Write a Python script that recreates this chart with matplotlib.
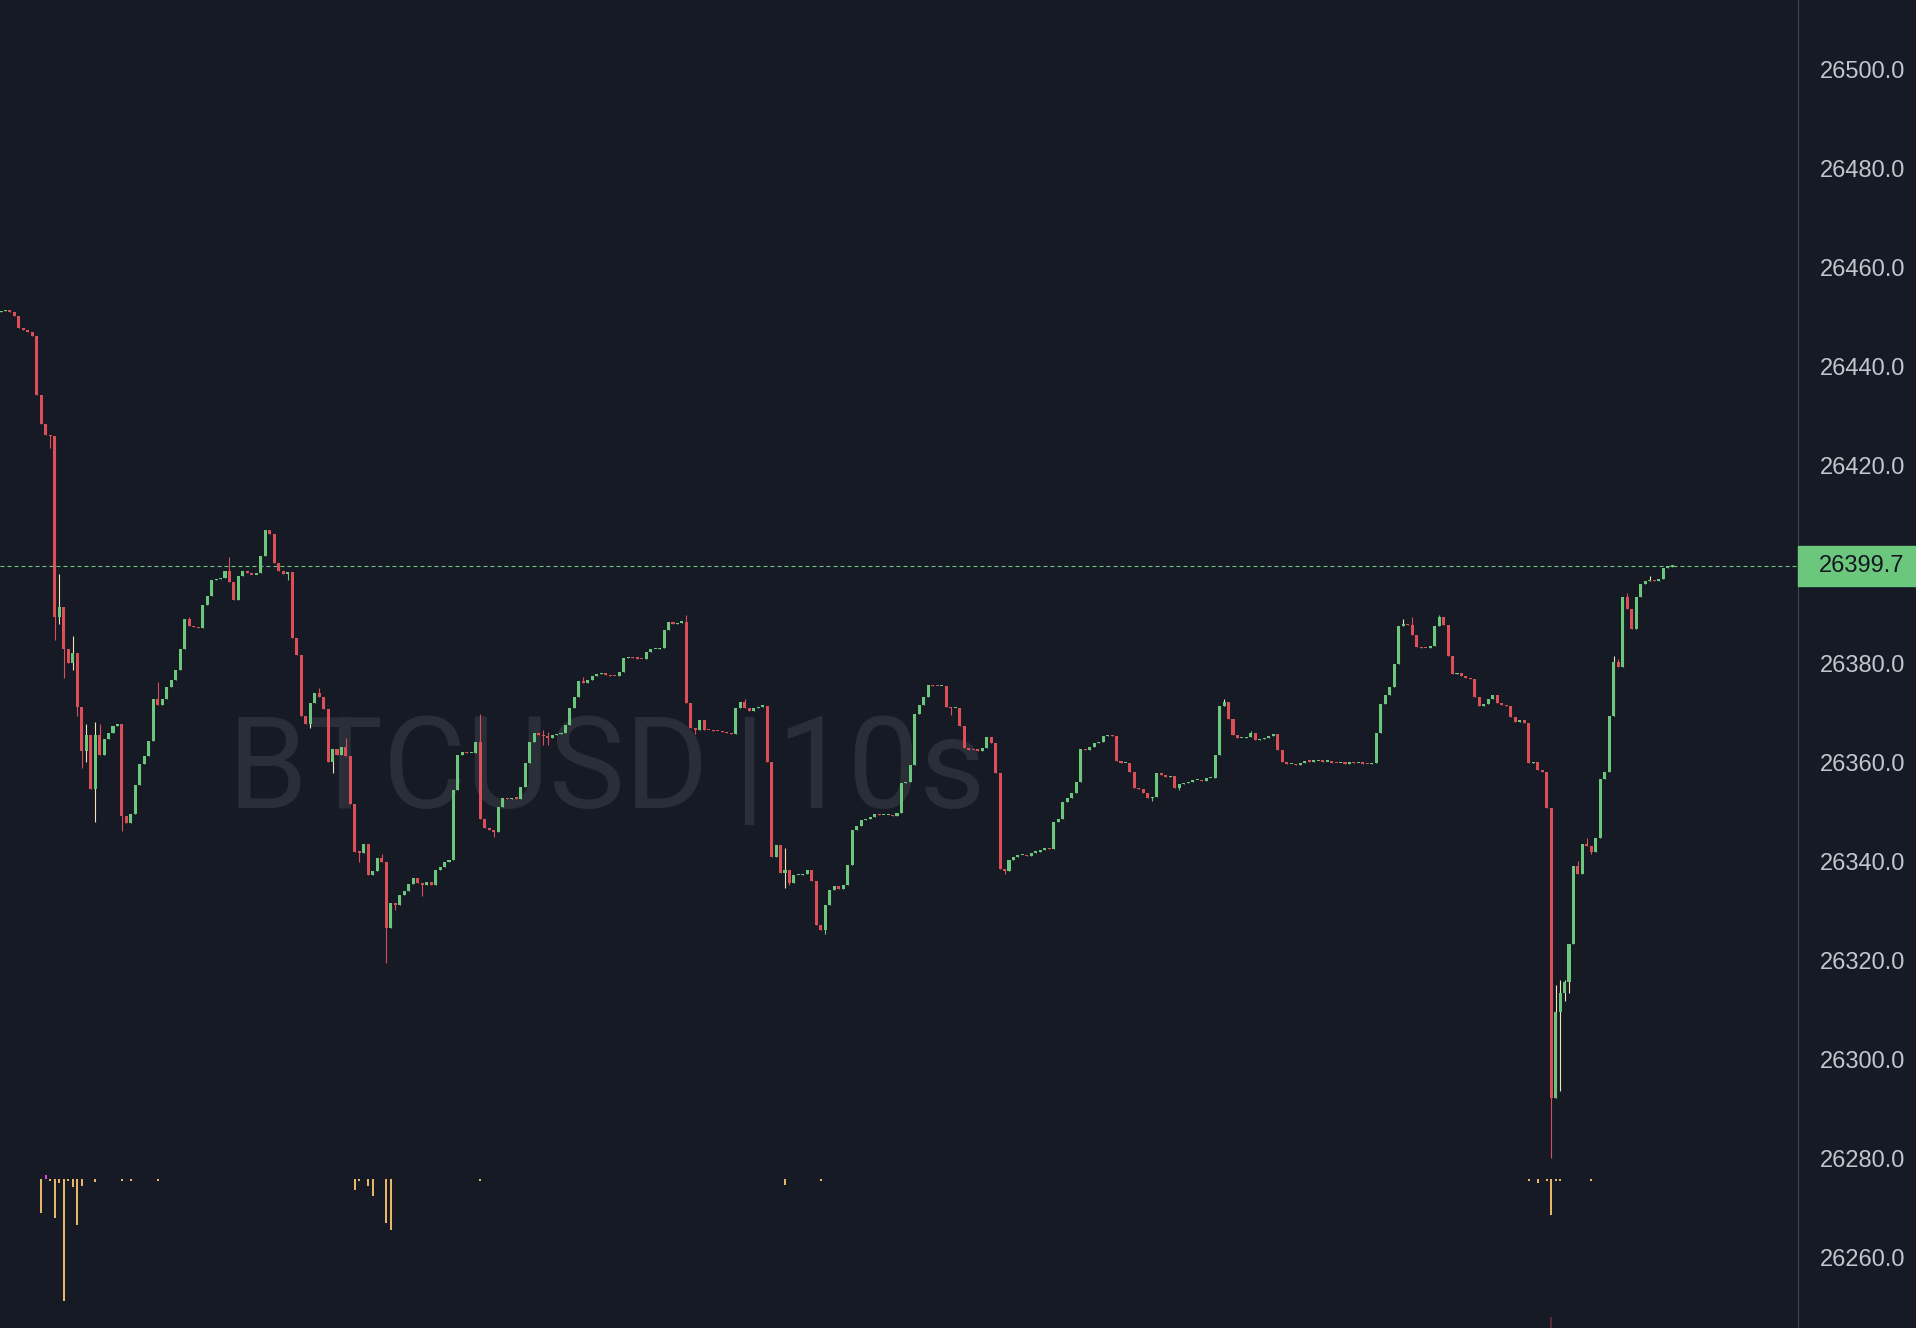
# BTCUSD 10s candles, dark theme, price scale on the right
import numpy as np
import matplotlib.pyplot as plt
from matplotlib.patches import Rectangle

# ---- data ----
first_open = 26451.0

closes = [
    26451.2, 26451.5, 26451.0, 26450.2, 26447.8, 26447.4, 26446.9, 26446.1, 26434.3, 26428.5,
    26426.2, 26426.0, 26389.5, 26391.4, 26382.9, 26380.2, 26382.1, 26371.3, 26362.4, 26365.5,
    26354.7, 26365.5, 26361.6, 26364.7, 26365.9, 26367.4, 26367.8, 26349.3, 26347.7, 26349.7,
    26355.5, 26359.7, 26361.3, 26364.4, 26372.9, 26371.7, 26372.9, 26375.2, 26376.7, 26378.7,
    26382.9, 26389.1, 26387.5, 26387.4, 26387.2, 26391.8, 26393.7, 26396.8, 26397.0, 26397.2,
    26398.7, 26396.4, 26392.9, 26397.6, 26398.7, 26398.4, 26398.0, 26398.4, 26401.8, 26406.9,
    26406.1, 26400.3, 26398.7, 26398.1, 26398.6, 26385.2, 26381.7, 26369.4, 26367.8, 26372.1,
    26374.0, 26373.2, 26370.9, 26360.1, 26362.8, 26361.6, 26363.2, 26361.3, 26351.6, 26342.0,
    26341.8, 26343.5, 26337.3, 26338.1, 26340.8, 26340.0, 26326.5, 26331.6, 26331.2, 26333.3,
    26334.0, 26335.5, 26336.6, 26335.6, 26335.2, 26335.9, 26335.3, 26338.3, 26339.0, 26340.0,
    26340.3, 26354.5, 26361.5, 26362.2, 26361.9, 26361.9, 26364.1, 26348.7, 26346.7, 26346.4,
    26346.0, 26351.1, 26352.8, 26352.6, 26352.9, 26352.7, 26355.1, 26359.9, 26364.1, 26365.9,
    26365.6, 26365.4, 26365.0, 26365.6, 26365.8, 26365.9, 26367.6, 26371.0, 26373.3, 26376.4,
    26376.0, 26376.7, 26377.5, 26377.9, 26378.0, 26377.7, 26377.5, 26377.4, 26378.4, 26381.1,
    26381.4, 26381.1, 26381.0, 26380.9, 26382.4, 26382.9, 26383.0, 26383.1, 26386.8, 26388.5,
    26388.0, 26388.3, 26388.5, 26372.0, 26366.9, 26366.5, 26368.6, 26366.6, 26366.5, 26366.4,
    26366.3, 26366.2, 26365.9, 26365.8, 26371.0, 26372.3, 26371.0, 26370.5, 26371.0, 26371.3,
    26371.4, 26360.2, 26341.0, 26343.4, 26337.6, 26338.3, 26335.6, 26337.3, 26337.3, 26337.5,
    26338.4, 26336.0, 26327.2, 26326.2, 26331.2, 26334.3, 26335.1, 26334.5, 26335.3, 26339.3,
    26346.4, 26347.1, 26348.4, 26348.7, 26349.1, 26349.6, 26349.4, 26349.4, 26349.4, 26349.2,
    26349.9, 26355.8, 26356.1, 26359.5, 26369.9, 26371.6, 26373.3, 26375.7, 26375.5, 26375.4,
    26375.4, 26371.3, 26371.0, 26371.0, 26367.4, 26362.9, 26362.6, 26362.5, 26362.4, 26362.9,
    26365.2, 26363.9, 26357.8, 26338.6, 26338.0, 26340.3, 26341.0, 26341.3, 26341.4, 26341.1,
    26341.8, 26342.0, 26342.3, 26342.7, 26342.5, 26348.1, 26348.7, 26352.1, 26352.8, 26353.9,
    26356.1, 26362.7, 26362.5, 26363.2, 26364.0, 26364.2, 26365.4, 26365.6, 26365.4, 26360.4,
    26359.9, 26360.0, 26358.2, 26354.8, 26354.6, 26353.8, 26352.8, 26353.1, 26357.8, 26357.5,
    26357.1, 26357.2, 26354.8, 26355.7, 26355.8, 26356.0, 26356.4, 26356.5, 26356.3, 26356.8,
    26356.9, 26361.5, 26371.4, 26372.3, 26368.9, 26365.6, 26364.9, 26365.0, 26365.2, 26365.9,
    26364.6, 26364.8, 26364.9, 26365.4, 26365.7, 26362.6, 26360.2, 26359.7, 26359.7, 26359.5,
    26360.0, 26360.4, 26360.2, 26360.3, 26360.4, 26360.2, 26360.2, 26360.0, 26359.9, 26359.9,
    26359.8, 26360.2, 26359.9, 26359.9, 26359.8, 26359.7, 26359.9, 26366.0, 26371.8, 26373.7,
    26375.2, 26379.9, 26387.5, 26388.0, 26387.8, 26385.8, 26383.4, 26383.2, 26383.1, 26383.6,
    26387.6, 26389.5, 26387.8, 26381.5, 26377.9, 26378.0, 26377.4, 26377.1, 26376.8, 26373.3,
    26371.4, 26371.8, 26372.8, 26373.7, 26372.1, 26371.6, 26371.4, 26369.3, 26368.3, 26368.7,
    26367.9, 26359.9, 26360.2, 26358.5, 26358.0, 26350.8, 26292.2, 26309.7, 26313.5, 26315.7,
    26323.3, 26339.2, 26337.4, 26343.5, 26343.1, 26341.9, 26344.8, 26356.7, 26358.0, 26369.4,
    26380.4, 26379.4, 26393.4, 26391.0, 26387.0, 26393.4, 26396.1, 26396.7, 26396.9, 26396.6,
    26397.1, 26399.4, 26399.6, 26399.7,
]

# wick extremes that reach past the body (candle index -> price)
wick_hi = {13: 26398.0, 16: 26385.6, 19: 26367.8, 21: 26368.2, 22: 26367.8, 35: 26376.3,
           42: 26389.5, 51: 26401.5, 71: 26375.0, 77: 26365.0, 85: 26341.5, 107: 26369.8,
           121: 26366.6, 122: 26366.2, 130: 26377.2, 153: 26389.8, 166: 26372.8, 175: 26342.7,
           273: 26372.8, 279: 26366.3, 313: 26389.1, 315: 26389.5, 321: 26389.8, 347: 26315.1,
           348: 26316.1, 349: 26316.1, 352: 26340.2, 354: 26344.8, 360: 26381.6, 361: 26381.0,
           363: 26394.2, 368: 26397.7}
wick_lo = {11: 26423.5, 12: 26384.8, 13: 26388.0, 14: 26377.1, 16: 26378.7, 17: 26369.4,
           18: 26359.0, 19: 26360.1, 21: 26348.1, 27: 26346.2, 64: 26396.8, 69: 26367.0,
           74: 26357.8, 80: 26340.0, 86: 26319.5, 88: 26330.2, 94: 26333.0, 110: 26345.0,
           121: 26363.6, 122: 26363.5, 155: 26365.8, 175: 26334.6, 176: 26335.2, 184: 26325.3,
           212: 26369.6, 224: 26337.5, 257: 26352.3, 263: 26354.5, 346: 26280.1, 348: 26293.6,
           349: 26311.8, 350: 26313.4, 355: 26341.5}
cream_wicks = [13, 16, 19, 21, 69, 74, 175, 273, 313, 342, 347, 348, 349, 350, 360, 368]

# volume (hangs down from the bottom pane baseline)
vol_idx = [9, 11, 12, 13, 14, 15, 16, 17, 18, 21, 27, 29, 35, 79, 80, 82, 83, 86, 87,
           107, 175, 183, 341, 343, 345, 346, 347, 348, 355]
vol_val = [3.4, 0.15, 3.9, 0.4, 12.2, 0.2, 0.8, 4.6, 0.7, 0.3, 0.15, 0.15, 0.15, 1.1, 0.2,
           0.7, 1.7, 4.4, 5.1, 0.15, 0.6, 0.15, 0.15, 0.4, 0.15, 3.6, 0.15, 0.15, 0.15]
buy_idx = [10]
buy_val = [-0.45]

last_price = 26399.7
price_ticks = list(range(26260, 26501, 20))

# ---- colours ----
BG = '#161a25'
GREEN = '#6bc77b'
RED = '#dc4f56'
CREAM = '#eee2b6'
ORANGE = '#e9b566'
TXT = '#c3c6ce'
WM = '#2a2e39'
AXIS_FONT = ['Liberation Sans', 'DejaVu Sans']

W, H = 1916, 1328
PANE_W = 1798

fig = plt.figure(figsize=(W / 100, H / 100), dpi=100, facecolor=BG)
ax = fig.add_axes([0, 0, PANE_W / W, 1])
ax.set_facecolor(BG)

n = len(closes)
x = np.arange(n)
c = np.array(closes)
o = np.array([first_open] + closes[:-1])
top = np.maximum(o, c)
bot = np.minimum(o, c)
hi = np.array([wick_hi.get(i, top[i]) for i in range(n)])
lo = np.array([wick_lo.get(i, bot[i]) for i in range(n)])
up = c >= o
body_col = np.where(up, GREEN, RED)
wick_col = [CREAM if i in cream_wicks else body_col[i] for i in range(n)]

# watermark, pieces placed separately to get the tight spacing
wm_y = 1 - 808 / H
ax.text(227 / W, wm_y, 'BTCUSD', transform=fig.transFigure, fontsize=92,
        family='Roboto', color=WM, ha='left', va='baseline', zorder=0)
ax.text(750 / W, wm_y, '|', transform=fig.transFigure, fontsize=92,
        family='Roboto', color=WM, ha='center', va='baseline', zorder=0)
ax.text(986 / W, wm_y, '10s', transform=fig.transFigure, fontsize=92,
        family='Roboto', color=WM, ha='right', va='baseline', zorder=0)

ax.vlines(x, lo, hi, colors=wick_col, lw=0.8, zorder=2)
ax.bar(x, np.maximum(top - bot, 0.25), bottom=bot, width=0.68, color=body_col,
       lw=0, zorder=3)

ax.axhline(last_price, color=GREEN, lw=0.8, ls=(0, (3.6, 2.7)), zorder=1)

ax.set_xlim(-1 / 4.48, (PANE_W - 1) / 4.48)
ax.set_ylim(26500 - (H - 69.6) / 4.95, 26500 + 69.6 / 4.95)

ax.set_xticks([])
ax.yaxis.tick_right()
ax.set_yticks(price_ticks)
ax.set_yticklabels([f'{v:.1f}' for v in price_ticks])
ax.tick_params(axis='y', length=0, pad=15.5, labelsize=17, labelcolor=TXT)
for lab in ax.get_yticklabels():
    lab.set_family(AXIS_FONT)
for s in ['top', 'left', 'bottom']:
    ax.spines[s].set_visible(False)
ax.spines['right'].set_color('#434651')
ax.spines['right'].set_linewidth(0.8)

# last price tag on the scale
fig.patches.append(Rectangle((PANE_W / W, 1 - 586 / H), (W - PANE_W) / W, 40 / H,
                             transform=fig.transFigure, color=GREEN, zorder=5))
fig.text(1862 / W, 1 - 566 / H, f'{last_price:.1f}', ha='center', va='center',
         fontsize=17, family=AXIS_FONT, color='#131722', zorder=6)

# volume strip at the bottom
vax = fig.add_axes([0, 0, PANE_W / W, 168 / H])
vax.patch.set_alpha(0)
vax.set_xlim(ax.get_xlim())
vax.set_ylim(14.9, -1.9)
vax.axis('off')
vax.bar(vol_idx, vol_val, width=0.45, color=ORANGE, lw=0)
vax.bar(buy_idx, buy_val, width=0.45, color='#d24fd8', lw=0)
vax.bar([346], [1.1], bottom=13.8, width=0.6, color='#5a2a36', lw=0)

fig.savefig('out.png', dpi=100, facecolor=BG)
